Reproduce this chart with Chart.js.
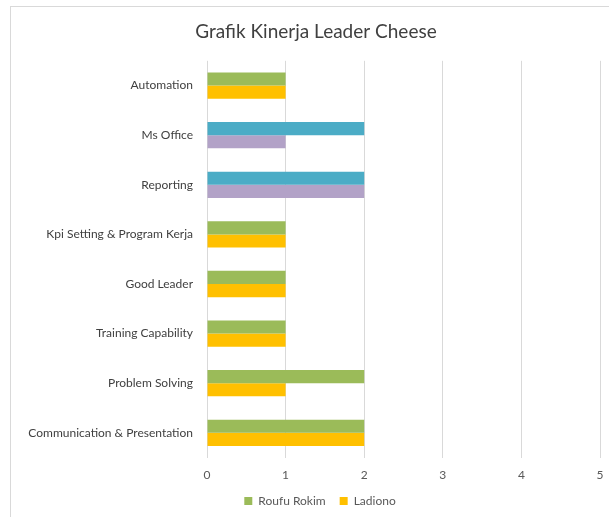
<!DOCTYPE html>
<html>
<head>
<meta charset="utf-8">
<script src="https://cdn.jsdelivr.net/npm/chart.js@4"></script>
<style>
  html, body { margin: 0; padding: 0; background: #fff; overflow: hidden; }
  #frame { position: absolute; left: 10px; top: 6px; width: 700px; height: 600px; border: 1px solid #d9d9d9; }
  #wrap { position: absolute; left: 0; top: 0; width: 609px; height: 517px; }
</style>
</head>
<body>
<div id="frame"></div>
<div id="wrap"><canvas id="kinerjaChart"></canvas></div>
<script>
// Chart data
const categories = [
  'Automation',
  'Ms Office',
  'Reporting',
  'Kpi Setting & Program Kerja',
  'Good Leader',
  'Training Capability',
  'Problem Solving',
  'Communication & Presentation'
];
const roufuRokim = [1, 2, 2, 1, 1, 1, 2, 2];
const ladiono = [1, 1, 2, 1, 1, 1, 1, 2];
const xTicks = [0, 1, 2, 3, 4, 5];

// Categories drawn in a different colour pair in the original
const otherColourRows = ['Ms Office', 'Reporting'];

const fontFamily = 'Lato, "Open Sans", sans-serif';

// Pick the bar colour, falling back to the series colour for the legend
function barColour(base, alt) {
  return function(ctx) {
    if (ctx.dataIndex === undefined) return base;
    return otherColourRows.includes(categories[ctx.dataIndex]) ? alt : base;
  };
}

// Title and legend are centred on the whole frame (which runs off the right edge),
// and the legend sits a little closer to the axis than its item spacing would give
const frameCentre = {
  id: 'frameCentre',
  afterLayout(chart) {
    chart.titleBlock.left += 32;
    chart.legend.left += 40;
    chart.legend.top -= 11;
  }
};

const chartCanvas = document.getElementById('kinerjaChart');

new Chart(chartCanvas, {
  type: 'bar',
  data: {
    labels: categories,
    datasets: [{
      label: 'Roufu Rokim',
      data: roufuRokim,
      backgroundColor: barColour('#9bbb59', '#4bacc6'),
      borderWidth: 0,
      categoryPercentage: 0.53,
      barPercentage: 1
    }, {
      label: 'Ladiono',
      data: ladiono,
      backgroundColor: barColour('#ffc000', '#b2a2c7'),
      borderWidth: 0,
      categoryPercentage: 0.53,
      barPercentage: 1
    }]
  },
  options: {
    indexAxis: 'y',
    responsive: true,
    maintainAspectRatio: false,
    animation: false,
    layout: {
      padding: { left: 0, right: 9, top: 0, bottom: 0 }
    },
    plugins: {
      title: {
        display: true,
        text: 'Grafik Kinerja Leader Cheese',
        color: '#404040',
        font: { family: fontFamily, size: 19, weight: 'normal' },
        padding: { top: 20, bottom: 18 }
      },
      legend: {
        position: 'bottom',
        maxHeight: 25,
        labels: {
          color: '#595959',
          font: { family: fontFamily, size: 12 },
          boxWidth: 8,
          boxHeight: 8,
          padding: 14
        }
      },
      tooltip: { enabled: false }
    },
    scales: {
      x: {
        min: 0,
        max: 5,
        afterBuildTicks: function(scale) {
          scale.ticks = xTicks.map(v => ({ value: v }));
        },
        afterFit: function(scale) {
          scale.paddingRight = 0;
        },
        grid: { color: '#d9d9d9', drawTicks: false },
        border: { display: false },
        ticks: {
          color: '#595959',
          font: { family: fontFamily, size: 12 },
          padding: 10
        }
      },
      y: {
        afterFit: function(scale) {
          scale.width = 207;
        },
        grid: { display: false, drawTicks: false },
        border: { display: false },
        ticks: {
          color: '#404040',
          font: { family: fontFamily, size: 12 },
          padding: 14
        }
      }
    }
  },
  plugins: [frameCentre]
});
</script>
</body>
</html>
